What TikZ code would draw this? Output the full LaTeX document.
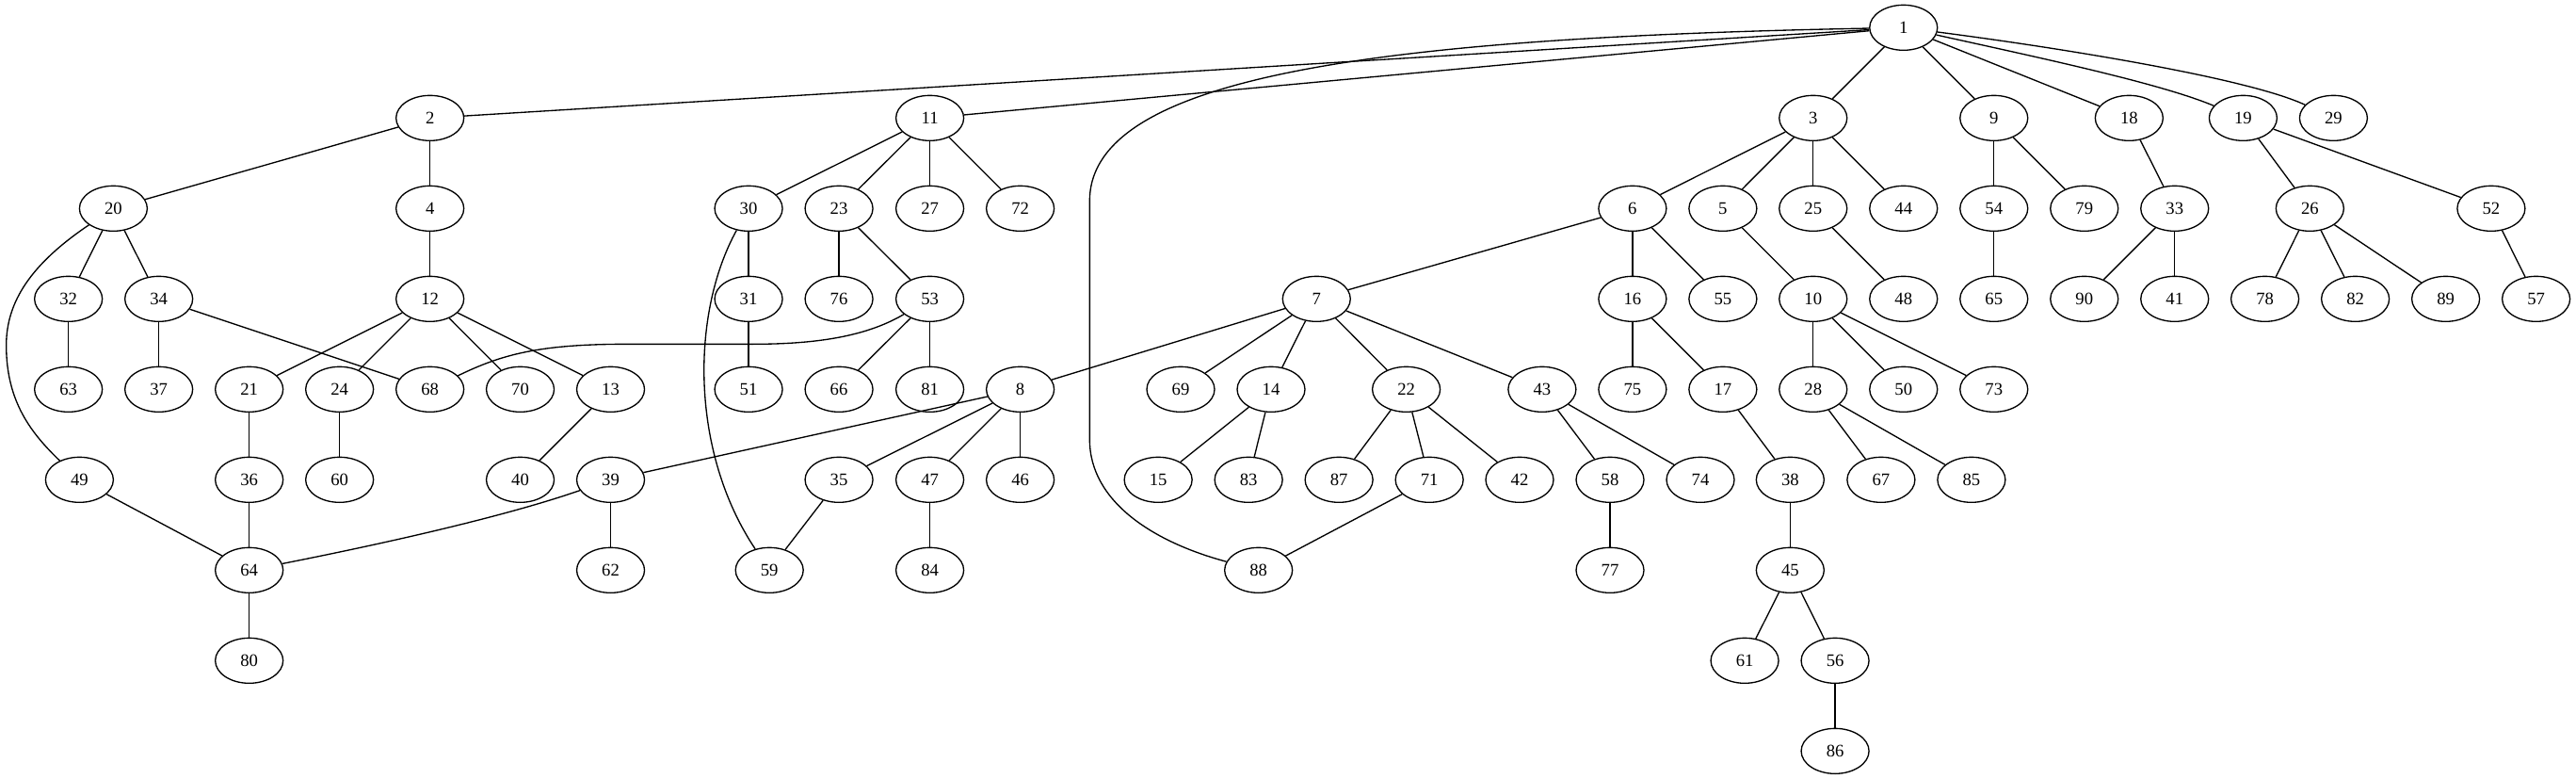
\documentclass[tikz,border=0pt]{standalone}
\usepackage{fontspec}
\setmainfont{Liberation Serif}
\usetikzlibrary{shapes.geometric}
\tikzset{
  nd/.style={draw, ellipse, line width=1pt, minimum width=54pt, minimum height=36pt, inner sep=0pt, font=\fontsize{14}{16}\selectfont},
  ed/.style={line width=1pt}
}
\begin{document}
\begin{tikzpicture}[x=1pt,y=-1pt]
\useasboundingbox (0,0) rectangle (2052,620);
% rank 0
\node[nd] (n1) at (1516.3,22) {1};
% rank 1
\node[nd] (n2) at (342.5,94) {2};
\node[nd] (n11) at (740.7,94) {11};
\node[nd] (n3) at (1444.3,94) {3};
\node[nd] (n9) at (1588.3,94) {9};
\node[nd] (n18) at (1696,94) {18};
\node[nd] (n19) at (1786.8,94) {19};
\node[nd] (n29) at (1858.8,94) {29};
% rank 2
\node[nd] (n20) at (90.3,166) {20};
\node[nd] (n4) at (342.5,166) {4};
\node[nd] (n30) at (596.3,166) {30};
\node[nd] (n23) at (668.3,166) {23};
\node[nd] (n27) at (740.7,166) {27};
\node[nd] (n72) at (812.7,166) {72};
\node[nd] (n6) at (1300.4,166) {6};
\node[nd] (n5) at (1372.4,166) {5};
\node[nd] (n25) at (1444.3,166) {25};
\node[nd] (n44) at (1516.3,166) {44};
\node[nd] (n54) at (1588.3,166) {54};
\node[nd] (n79) at (1660.3,166) {79};
\node[nd] (n33) at (1732.3,166) {33};
\node[nd] (n26) at (1840,166) {26};
\node[nd] (n52) at (1984.4,166) {52};
% rank 3
\node[nd] (n32) at (54.5,238) {32};
\node[nd] (n34) at (126.5,238) {34};
\node[nd] (n12) at (342.5,238) {12};
\node[nd] (n31) at (596.3,238) {31};
\node[nd] (n76) at (668.3,238) {76};
\node[nd] (n53) at (740.7,238) {53};
\node[nd] (n7) at (1048.7,238) {7};
\node[nd] (n16) at (1300.4,238) {16};
\node[nd] (n55) at (1372.4,238) {55};
\node[nd] (n10) at (1444.3,238) {10};
\node[nd] (n48) at (1516.3,238) {48};
\node[nd] (n65) at (1588.3,238) {65};
\node[nd] (n90) at (1660.3,238) {90};
\node[nd] (n41) at (1732.3,238) {41};
\node[nd] (n78) at (1804.2,238) {78};
\node[nd] (n82) at (1876.2,238) {82};
\node[nd] (n89) at (1948.2,238) {89};
\node[nd] (n57) at (2020.2,238) {57};
% rank 4
\node[nd] (n63) at (54.5,310) {63};
\node[nd] (n37) at (126.5,310) {37};
\node[nd] (n21) at (198.5,310) {21};
\node[nd] (n24) at (270.5,310) {24};
\node[nd] (n68) at (342.5,310) {68};
\node[nd] (n70) at (414.4,310) {70};
\node[nd] (n13) at (486.4,310) {13};
\node[nd] (n51) at (596.3,310) {51};
\node[nd] (n66) at (668.3,310) {66};
\node[nd] (n81) at (740.7,310) {81};
\node[nd] (n8) at (812.7,310) {8};
\node[nd] (n69) at (940.5,310) {69};
\node[nd] (n14) at (1012.5,310) {14};
\node[nd] (n22) at (1120.2,310) {22};
\node[nd] (n43) at (1228.4,310) {43};
\node[nd] (n75) at (1300.4,310) {75};
\node[nd] (n17) at (1372.4,310) {17};
\node[nd] (n28) at (1444.3,310) {28};
\node[nd] (n50) at (1516.3,310) {50};
\node[nd] (n73) at (1588.3,310) {73};
% rank 5
\node[nd] (n49) at (63.3,382) {49};
\node[nd] (n36) at (198.5,382) {36};
\node[nd] (n60) at (270.5,382) {60};
\node[nd] (n40) at (414.4,382) {40};
\node[nd] (n39) at (486.4,382) {39};
\node[nd] (n35) at (668.3,382) {35};
\node[nd] (n47) at (740.7,382) {47};
\node[nd] (n46) at (812.7,382) {46};
\node[nd] (n15) at (922.6,382) {15};
\node[nd] (n83) at (994.6,382) {83};
\node[nd] (n87) at (1066.6,382) {87};
\node[nd] (n71) at (1138.6,382) {71};
\node[nd] (n42) at (1210.5,382) {42};
\node[nd] (n58) at (1282.5,382) {58};
\node[nd] (n74) at (1354.5,382) {74};
\node[nd] (n38) at (1426,382) {38};
\node[nd] (n67) at (1498.4,382) {67};
\node[nd] (n85) at (1570.4,382) {85};
% rank 6
\node[nd] (n64) at (198.5,454) {64};
\node[nd] (n62) at (486.4,454) {62};
\node[nd] (n59) at (612.9,454) {59};
\node[nd] (n84) at (740.7,454) {84};
\node[nd] (n88) at (1002.5,454) {88};
\node[nd] (n77) at (1282.5,454) {77};
\node[nd] (n45) at (1426,454) {45};
% rank 7
\node[nd] (n80) at (198.5,526) {80};
\node[nd] (n61) at (1389.8,526) {61};
\node[nd] (n56) at (1461.8,526) {56};
% rank 8
\node[nd] (n86) at (1461.8,598) {86};

% edges
\draw[ed] (n1) -- (n2);
\draw[ed] (n1) -- (n11);
\draw[ed] (n1) .. controls (1100,30) and (868,60) .. (868,160) -- (868,350) .. controls (868,400) and (920,432) .. (n88);
\draw[ed] (n1) -- (n3);
\draw[ed] (n1) -- (n9);
\draw[ed] (n1) -- (n18);
\draw[ed] (n1) .. controls (1620,45) and (1720,66) .. (n19);
\draw[ed] (n1) .. controls (1640,38) and (1790,62) .. (n29);
\draw[ed] (n2) -- (n20);
\draw[ed] (n2) -- (n4);
\draw[ed] (n11) -- (n30);
\draw[ed] (n11) -- (n23);
\draw[ed] (n11) -- (n27);
\draw[ed] (n11) -- (n72);
\draw[ed] (n3) -- (n6);
\draw[ed] (n3) -- (n5);
\draw[ed] (n3) -- (n25);
\draw[ed] (n3) -- (n44);
\draw[ed] (n9) -- (n54);
\draw[ed] (n9) -- (n79);
\draw[ed] (n18) -- (n33);
\draw[ed] (n19) -- (n26);
\draw[ed] (n19) -- (n52);
\draw[ed] (n20) -- (n32);
\draw[ed] (n20) -- (n34);
\draw[ed] (n20) .. controls (25,210) and (5,240) .. (5,275) .. controls (5,320) and (25,345) .. (n49);
\draw[ed] (n4) -- (n12);
\draw[ed] (n30) -- (n31);
\draw[ed] (n30) .. controls (550,250) and (550,360) .. (n59);
\draw[ed] (n23) -- (n76);
\draw[ed] (n23) -- (n53);
\draw[ed] (n6) -- (n7);
\draw[ed] (n6) -- (n16);
\draw[ed] (n6) -- (n55);
\draw[ed] (n5) -- (n10);
\draw[ed] (n25) -- (n48);
\draw[ed] (n54) -- (n65);
\draw[ed] (n33) -- (n90);
\draw[ed] (n33) -- (n41);
\draw[ed] (n26) -- (n78);
\draw[ed] (n26) -- (n82);
\draw[ed] (n26) -- (n89);
\draw[ed] (n52) -- (n57);
\draw[ed] (n32) -- (n63);
\draw[ed] (n34) -- (n37);
\draw[ed] (n34) -- (n68);
\draw[ed] (n12) -- (n21);
\draw[ed] (n12) -- (n24);
\draw[ed] (n12) -- (n70);
\draw[ed] (n12) -- (n13);
\draw[ed] (n31) -- (n51);
\draw[ed] (n53) .. controls (690,268) and (650,274) .. (600,274) -- (500,274) .. controls (430,274) and (400,282) .. (n68);
\draw[ed] (n53) -- (n66);
\draw[ed] (n53) -- (n81);
\draw[ed] (n7) -- (n8);
\draw[ed] (n7) -- (n69);
\draw[ed] (n7) -- (n14);
\draw[ed] (n7) -- (n22);
\draw[ed] (n7) -- (n43);
\draw[ed] (n16) -- (n75);
\draw[ed] (n16) -- (n17);
\draw[ed] (n10) -- (n28);
\draw[ed] (n10) -- (n50);
\draw[ed] (n10) -- (n73);
\draw[ed] (n21) -- (n36);
\draw[ed] (n24) -- (n60);
\draw[ed] (n13) -- (n40);
\draw[ed] (n8) -- (n39);
\draw[ed] (n8) -- (n35);
\draw[ed] (n8) -- (n47);
\draw[ed] (n8) -- (n46);
\draw[ed] (n14) -- (n15);
\draw[ed] (n14) -- (n83);
\draw[ed] (n22) -- (n87);
\draw[ed] (n22) -- (n71);
\draw[ed] (n22) -- (n42);
\draw[ed] (n43) -- (n58);
\draw[ed] (n43) -- (n74);
\draw[ed] (n17) -- (n38);
\draw[ed] (n28) -- (n67);
\draw[ed] (n28) -- (n85);
\draw[ed] (n49) -- (n64);
\draw[ed] (n36) -- (n64);
\draw[ed] (n39) .. controls (400,412) and (300,434) .. (n64);
\draw[ed] (n39) -- (n62);
\draw[ed] (n35) -- (n59);
\draw[ed] (n47) -- (n84);
\draw[ed] (n71) -- (n88);
\draw[ed] (n58) -- (n77);
\draw[ed] (n38) -- (n45);
\draw[ed] (n45) -- (n61);
\draw[ed] (n45) -- (n56);
\draw[ed] (n64) -- (n80);
\draw[ed] (n56) -- (n86);
\end{tikzpicture}
\end{document}
